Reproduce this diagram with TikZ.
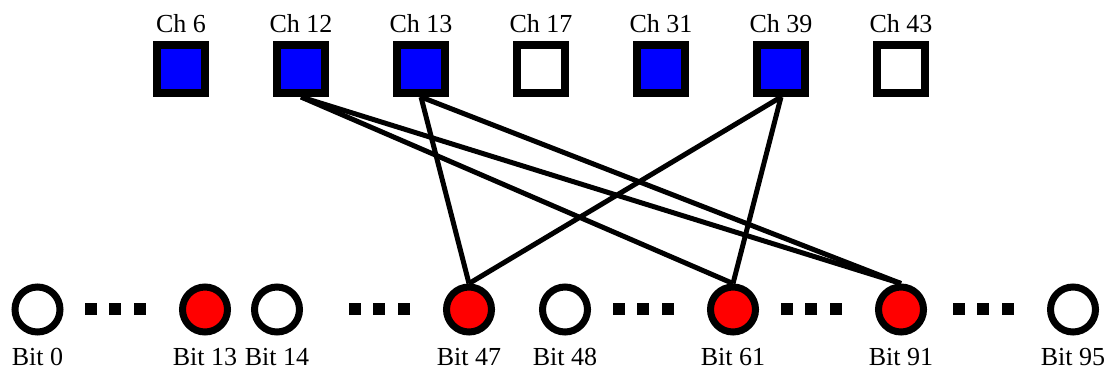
\documentclass[tikz,border=0pt]{standalone}
\usepackage{fontspec}
\setmainfont{Liberation Serif}
\begin{document}
\begin{tikzpicture}[x=0.75pt,y=-0.75pt,
  chbox/.style={draw=black,line width=6pt,minimum size=36pt,inner sep=0pt},
  on/.style={fill=blue},
  bitnode/.style={circle,draw=black,line width=5.25pt,minimum size=33.75pt,inner sep=0pt},
  hot/.style={fill=red},
  dotsq/.style={fill=black,minimum size=9pt,inner sep=0pt},
  lbl/.style={font=\fontsize{19.5pt}{22pt}\selectfont,anchor=base,inner sep=0pt},
  edge/.style={line width=3.75pt}]
\useasboundingbox (0,0) rectangle (1116,375);
% channels
\foreach \n/\x/\s in {6/181/on,12/301/on,13/421/on,17/541/,31/661/on,39/781/on,43/901/}{
  \node[chbox,\s,fill opacity=1] (ch\n) at (\x,69) {};
  \node[lbl] (lch\n) at (\x,32) {Ch \n};
}
% bits
\foreach \n/\x/\s in {0/37.5/,13/205/hot,14/277/,47/469/hot,48/565/,61/733/hot,91/901/hot,95/1073/}{
  \node[bitnode,\s] (b\n) at (\x,309.5) {};
  \node[lbl] (lb\n) at (\x,365) {Bit \n};
}
% dots
\foreach \i/\x in {1/115,2/379,3/643,4/811,5/983}{
  \node[dotsq] (d\i a) at (\x-24.5,309) {};
  \node[dotsq] (d\i b) at (\x,309) {};
  \node[dotsq] (d\i c) at (\x+24.5,309) {};
}
% edges
\draw[edge] (ch12.south) -- (b61.north);
\draw[edge] (ch12.south) -- (b91.north);
\draw[edge] (ch13.south) -- (b47.north);
\draw[edge] (ch13.south) -- (b91.north);
\draw[edge] (ch39.south) -- (b47.north);
\draw[edge] (ch39.south) -- (b61.north);
\end{tikzpicture}
\end{document}
